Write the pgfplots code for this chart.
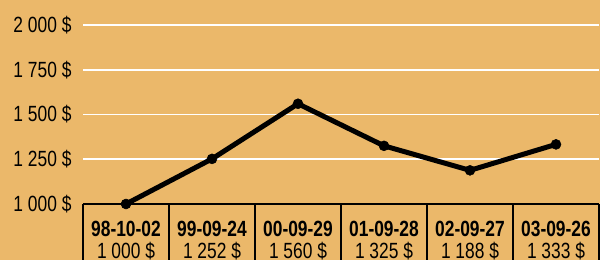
\documentclass[border=0pt]{standalone}
\usepackage{pgfplots}
\pgfplotsset{compat=1.18}
\usepackage{fontspec}
\setmainfont[FakeStretch=0.79]{Liberation Sans}
\definecolor{bg}{HTML}{EBB86A}
\begin{document}
\begin{tikzpicture}
\useasboundingbox (0,0) rectangle (600bp,260bp);
\fill[bg] (0,0) rectangle (600bp,260bp);
\clip (0,0) rectangle (600bp,260bp);
\begin{axis}[
  at={(83bp,56bp)}, anchor=south west,
  scale only axis, width=516bp, height=179bp,
  xmin=-0.5, xmax=5.5, ymin=1000, ymax=2000,
  clip=false,
  axis x line*=bottom, axis y line*=left,
  x axis line style={black, line width=2.5bp, -},
  y axis line style={draw=none, -},
  ytick={1000,1250,1500,1750,2000},
  yticklabels={1 000 \$,1 250 \$,1 500 \$,1 750 \$,2 000 \$},
  ymajorgrids, grid style={white, line width=1.8bp},
  major tick length=0pt,
  xtick={0,1,2,3,4,5},
  xticklabels={
    {\textbf{98-10-02}\\1 000 \$},
    {\textbf{99-09-24}\\1 252 \$},
    {\textbf{00-09-29}\\1 560 \$},
    {\textbf{01-09-28}\\1 325 \$},
    {\textbf{02-09-27}\\1 188 \$},
    {\textbf{03-09-26}\\1 333 \$}},
  minor xtick={-0.5,0.5,1.5,2.5,3.5,4.5,5.5},
  minor tick length=70bp, tick align=outside,
  xtick pos=bottom, ytick pos=left,
  minor tick style={black, line width=1.5bp},
  tick label style={font=\fontsize{22bp}{22bp}\selectfont, text=black},
  xticklabel style={align=center, yshift=-14bp},
  yticklabel style={xshift=-8bp},
]
\addplot[black, line width=5bp, mark=*, mark size=5bp, mark options={line width=0.5bp}]
  coordinates {(0,1000) (1,1252) (2,1560) (3,1325) (4,1188) (5,1333)};
\end{axis}
\end{tikzpicture}
\end{document}
